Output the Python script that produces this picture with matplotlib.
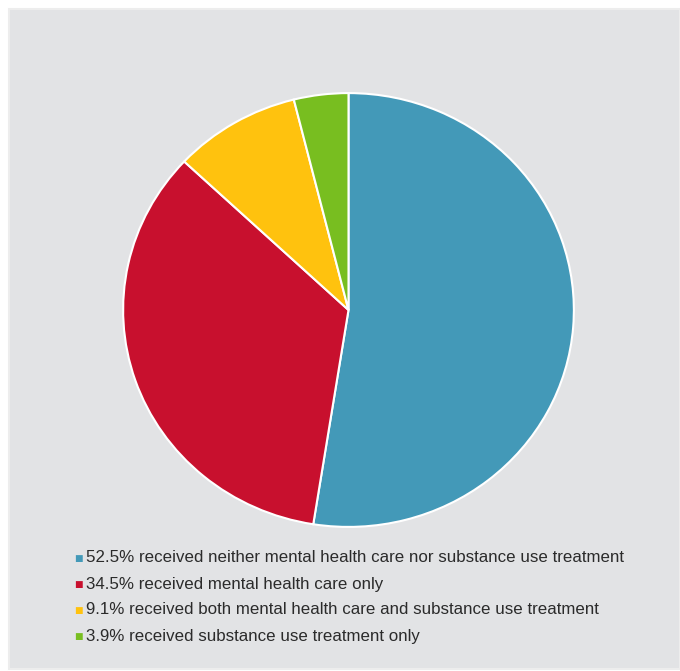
import matplotlib.pyplot as plt
from matplotlib.patches import Rectangle

# data
shares = [52.5, 34.5, 9.1, 3.9]
labels = [
    "52.5% received neither mental health care nor substance use treatment",
    "34.5% received mental health care only",
    "9.1% received both mental health care and substance use treatment",
    "3.9% received substance use treatment only",
]
colors = ["#4399B8", "#C8102E", "#FFC20E", "#78BE20"]

W, H = 680, 671
fig = plt.figure(figsize=(W / 100, H / 100), dpi=100)
fig.patch.set_facecolor("white")

# gray panel behind everything
fig.patches.append(Rectangle((9 / W, 1 - 669 / H), 1 - 9 / W, (669 - 9) / H,
                             transform=fig.transFigure, facecolor="#E2E3E5",
                             edgecolor="#EDEDED", linewidth=1.5, zorder=-1))

# pie (slightly wider than tall, like the reference)
left, right, top, bottom = 122, 575, 92, 528
ax = fig.add_axes([left / W, 1 - bottom / H, (right - left) / W, (bottom - top) / H])
ax.pie(shares, colors=colors, startangle=90, counterclock=False,
       wedgeprops=dict(edgecolor="white", linewidth=1.5))
ax.set_aspect("auto")
ax.set_xlim(-1.005, 1.005)
ax.set_ylim(-1.005, 1.005)
ax.axis("off")

# legend drawn by hand
y0, dy = 558, 26
for i, (lab, c) in enumerate(zip(labels, colors)):
    y = 1 - (y0 + i * dy) / H
    fig.text(78 / W, y, "\u25A0", color=c, fontsize=6.5, ha="center", va="center",
             family="DejaVu Sans")
    fig.text(86 / W, y, lab, color="#2b2b2b", fontsize=12.15, ha="left", va="center",
             family="Liberation Sans")

fig.savefig("out.png", dpi=100)
